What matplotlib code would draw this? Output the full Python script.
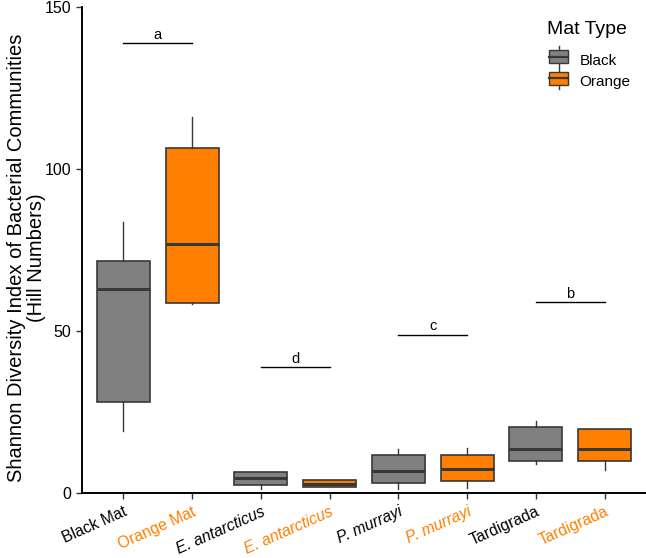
import matplotlib
matplotlib.use("Agg")
import matplotlib.pyplot as plt
from matplotlib.legend_handler import HandlerBase
from matplotlib.patches import Rectangle, Patch
from matplotlib.lines import Line2D

plt.rcParams["font.family"] = ["Liberation Sans", "DejaVu Sans"]

# ── Data ──────────────────────────────────────────────────
labels   = ["Black Mat", "Orange Mat", "E. antarcticus", "E. antarcticus",
            "P. murrayi", "P. murrayi", "Tardigrada", "Tardigrada"]
italic   = [False, False, True, True, True, True, False, False]
mat_type = ["Black", "Orange"] * 4

whislo = [19.1, 58.4, 1.2, 2.0, 1.2, 1.4, 9.1, 7.2]
q1     = [28.0, 58.7, 2.4, 2.0, 3.0, 3.7, 9.8, 9.8]
med    = [62.9, 76.8, 4.7, 2.9, 6.7, 7.3, 13.7, 13.7]
q3     = [71.6, 106.5, 6.5, 3.9, 11.8, 11.6, 20.3, 19.6]
whishi = [83.5, 116.0, 6.5, 4.1, 13.7, 13.9, 22.1, 19.9]

sig_letters = ["a", "d", "c", "b"]
sig_heights = [138.9, 38.8, 48.9, 58.9]

colors = {"Black": "#808080", "Orange": "#FF7F00"}
edge = "#383838"

# ── Figure ────────────────────────────────────────────────
fig = plt.figure(figsize=(6.46, 5.58), dpi=100)
ax = fig.add_axes([82 / 646, 65 / 558, 1 - 82 / 646, (493 - 7) / 558])

stats = []
for i in range(len(labels)):
    stats.append(dict(med=med[i], q1=q1[i], q3=q3[i],
                      whislo=whislo[i], whishi=whishi[i], fliers=[]))

pos = list(range(len(labels)))
bp = ax.bxp(stats, positions=pos, widths=0.77, patch_artist=True,
            showcaps=False,
            boxprops=dict(edgecolor=edge, linewidth=1.2),
            whiskerprops=dict(color=edge, linewidth=1.0),
            medianprops=dict(color=edge, linewidth=2.2))
for patch, mt in zip(bp["boxes"], mat_type):
    patch.set_facecolor(colors[mt])

# significance bars
for k, (lett, h) in enumerate(zip(sig_letters, sig_heights)):
    x0, x1 = 2 * k, 2 * k + 1
    ax.plot([x0, x1], [h, h], color="black", linewidth=1.0)
    ax.text((x0 + x1) / 2, h + 1.3, lett, ha="center", va="baseline", fontsize=10.5)

ax.set_xlim(-0.6, 7.6)
ax.set_ylim(0, 150)
ax.set_yticks([0, 50, 100, 150])
ax.set_xticks(pos)
ax.set_xticklabels(labels, rotation=24, ha="right", rotation_mode="anchor")
for t, it, mt in zip(ax.get_xticklabels(), italic, mat_type):
    t.set_color("black" if mt == "Black" else colors["Orange"])
    t.set_fontsize(11.3)
    if it:
        t.set_style("italic")
ax.tick_params(axis="y", labelsize=11.5, length=4, width=1.0, color="#333333")
ax.tick_params(axis="x", length=4, width=1.0, color="#333333", pad=4)
ax.spines["top"].set_visible(False)
ax.spines["right"].set_visible(False)
ax.spines["left"].set_linewidth(1.4)
ax.spines["bottom"].set_linewidth(1.4)
ax.set_ylabel("Shannon Diversity Index of Bacterial Communities\n(Hill Numbers)",
              fontsize=14.5, linespacing=1.05)
ax.yaxis.set_label_coords(-0.0645, 0.4835)


# ── Legend with mini boxplot keys ─────────────────────────
class BoxHandler(HandlerBase):
    def create_artists(self, legend, orig, xd, yd, w, h, fontsize, trans):
        cx = xd + w / 2
        bw = w * 0.95
        rect = Rectangle((cx - bw / 2, yd), bw, h, facecolor=orig.get_facecolor(),
                         edgecolor=edge, linewidth=1.0, transform=trans)
        wl = Line2D([cx, cx], [yd - 0.3 * h, yd + 1.3 * h], color=edge,
                    linewidth=1.0, transform=trans)
        ml = Line2D([cx - bw / 2, cx + bw / 2], [yd + h / 2, yd + h / 2],
                    color=edge, linewidth=1.6, transform=trans)
        return [wl, rect, ml]


fig.text(547 / 646, 1 - 30 / 558, "Mat Type", fontsize=14, ha="left", va="center")
handles = [Patch(facecolor=colors["Black"]), Patch(facecolor=colors["Orange"])]
leg = fig.legend(handles, ["Black", "Orange"],
                 handler_map={Patch: BoxHandler()}, frameon=False,
                 loc="upper left", bbox_to_anchor=(535 / 646, 1 - 39 / 558),
                 fontsize=11, handlelength=1.3, handleheight=0.95,
                 labelspacing=0.45, handletextpad=0.7)

fig.savefig("out.png", dpi=100)
